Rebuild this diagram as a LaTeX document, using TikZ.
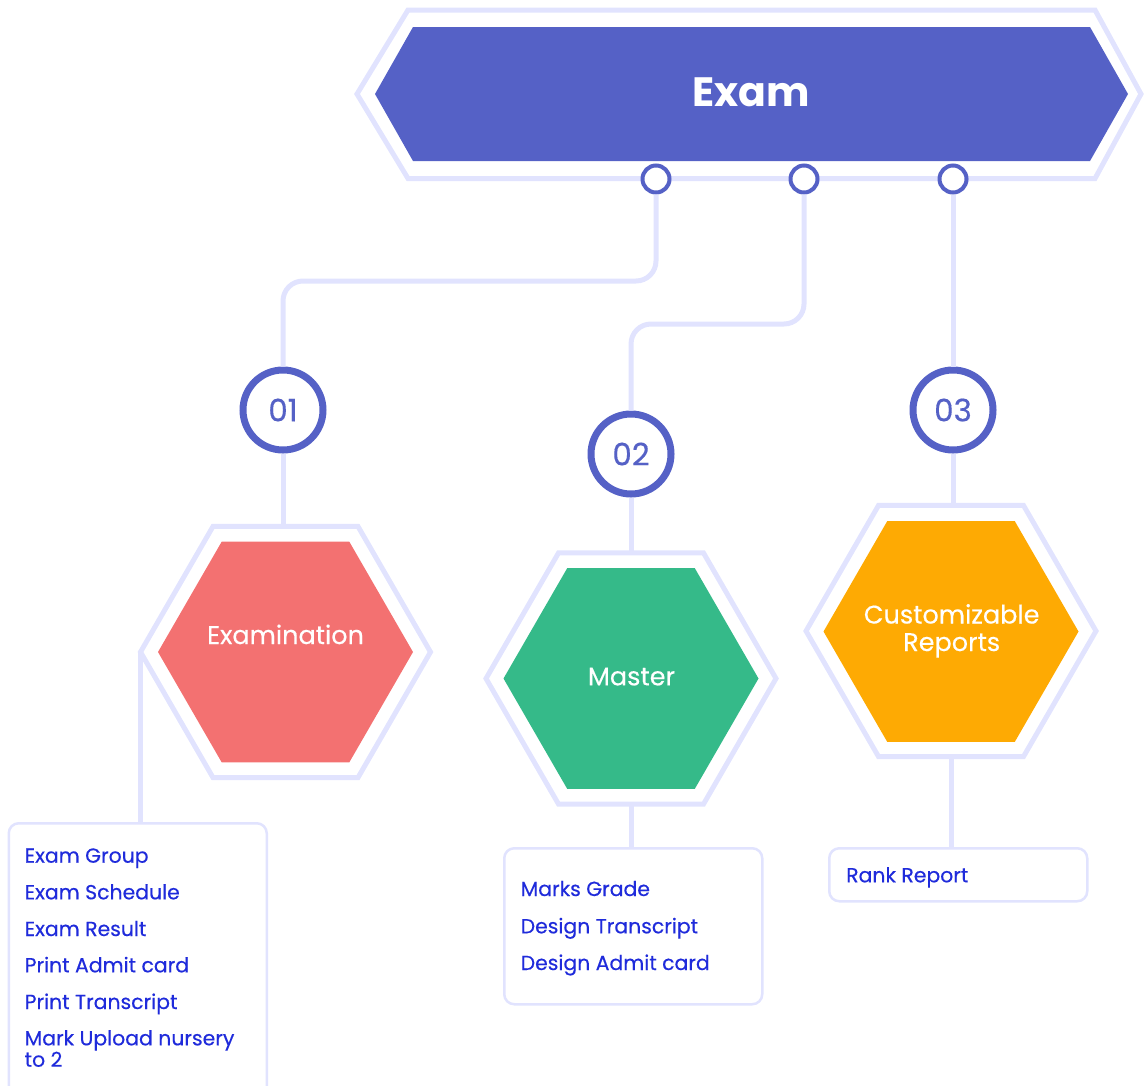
\documentclass[tikz,border=0pt]{standalone}
\usepackage{fontspec}
\setmainfont{Poppins}
\newfontfamily\popmed[FakeBold=0.35]{Poppins}
\usetikzlibrary{shapes.geometric,calc}
\definecolor{bannerblue}{HTML}{5561C6}
\definecolor{lavline}{HTML}{E1E3FE}
\definecolor{coral}{HTML}{F37171}
\definecolor{mint}{HTML}{35BA89}
\definecolor{amber}{HTML}{FEAA03}
\definecolor{itemblue}{HTML}{1F2BDB}
\begin{document}
\begin{tikzpicture}[x=1pt,y=-1pt,
  lav/.style={draw=lavline, line width=5pt},
  conn/.style={draw=lavline, line width=5pt, rounded corners=20pt},
  hexo/.style={regular polygon, regular polygon sides=6, minimum size=290pt, inner sep=0pt, outer sep=0pt, draw=lavline, line width=5pt},
  hexi/.style={regular polygon, regular polygon sides=6, minimum size=255pt, inner sep=0pt, draw=none},
  dot/.style={circle, draw=bannerblue, fill=white, line width=4pt, minimum size=27pt, inner sep=0pt},
  numc/.style={circle, draw=bannerblue, fill=white, line width=7pt, minimum size=80pt, inner sep=0pt, text=bannerblue, font=\popmed\fontsize{31}{31}\selectfont},
  box/.style={draw=lavline, line width=2.5pt, rounded corners=10pt, fill=white, inner sep=0pt},
  item/.style={anchor=base west, inner sep=0pt, text=itemblue, font=\popmed\fontsize{20.4}{20.4}\selectfont},
  hextext/.style={anchor=base, inner sep=0pt, text=white, font=\popmed\fontsize{25.5}{25.5}\selectfont},
]
\useasboundingbox (0,0) rectangle (1147,1085);
\clip (0,0) rectangle (1147,1085);

% banner
\fill[bannerblue] (375,94) -- (413,27) -- (1090,27) -- (1128,94) -- (1090,161) -- (413,161) -- cycle;
\draw[lav] (357,94) -- (408,10) -- (1095,10) -- (1141,94) -- (1095,178.5) -- (408,178.5) -- cycle;
\node[anchor=base, inner sep=0pt, text=white, font=\fontsize{41}{41}\selectfont\bfseries] (exam) at (751,106) {Exam};

% small dots
\node[dot] (s1) at (656,179) {};
\node[dot] (s2) at (804,179) {};
\node[dot] (s3) at (953,179) {};

% numbered circles
\node[numc] (c01) at (283,410) {01};
\node[numc] (c02) at (631,454) {02};
\node[numc] (c03) at (953,410) {03};

% hexagons
\node[hexo] (hex1o) at (285.5,652) {};
\node[hexi, fill=coral] (hex1i) at (285.5,652) {};
\node[hextext] (t1) at (285.5,644) {Examination};

\node[hexo] (hex2o) at (631,678.5) {};
\node[hexi, fill=mint] (hex2i) at (631,678.5) {};
\node[hextext] (t2) at (631.5,685.3) {Master};

\node[hexo] (hex3o) at (951,631) {};
\node[hexi, fill=amber] (hex3i) at (951,631.5) {};
\node[hextext] (t3a) at (951.7,623.5) {Customizable};
\node[hextext] (t3b) at (951.7,651) {Reports};

% boxes
\node[box, minimum width=258pt, minimum height=290pt, anchor=north west] (box1) at (7.5,822) {};
\node[box, minimum width=258pt, minimum height=156pt, anchor=north west] (box2) at (503,847) {};
\node[box, minimum width=258pt, minimum height=53pt, anchor=north west] (box3) at (828,847) {};

% connectors
\coordinate (j1) at (0,281);
\coordinate (j2) at (0,324);
\draw[conn] (s1) -- (s1 |- j1) -- (c01 |- j1) -- (c01);
\draw[conn] (s2) -- (s2 |- j2) -- (c02 |- j2) -- (c02);
\draw[conn] (s3) -- (c03);
\draw[lav] (c01) -- (c01 |- hex1o.north);
\draw[lav] (c02) -- (c02 |- hex2o.north);
\draw[lav] (c03) -- (c03 |- hex3o.north);
\draw[lav] (hex1o.west) -- (hex1o.west |- box1.north);
\draw[lav] (hex2o.south) -- (hex2o.south |- box2.north);
\draw[lav] (hex3o.south) -- (hex3o.south |- box3.north);

% items
\node[item] (i11) at (24.5,862.7) {Exam Group};
\node[item] (i12) at (24.5,899.3) {Exam Schedule};
\node[item] (i13) at (24.5,936) {Exam Result};
\node[item] (i14) at (24.5,972.3) {Print Admit card};
\node[item] (i15) at (24.5,1009) {Print Transcript};
\node[item] (i16) at (24.5,1045.3) {Mark Upload nursery};
\node[item] (i17) at (24.5,1066.7) {to 2};

\node[item] (i21) at (520.5,896) {Marks Grade};
\node[item] (i22) at (520.5,933.3) {Design Transcript};
\node[item] (i23) at (520.5,970) {Design Admit card};

\node[item] (i31) at (846,882.3) {Rank Report};
\end{tikzpicture}
\end{document}
